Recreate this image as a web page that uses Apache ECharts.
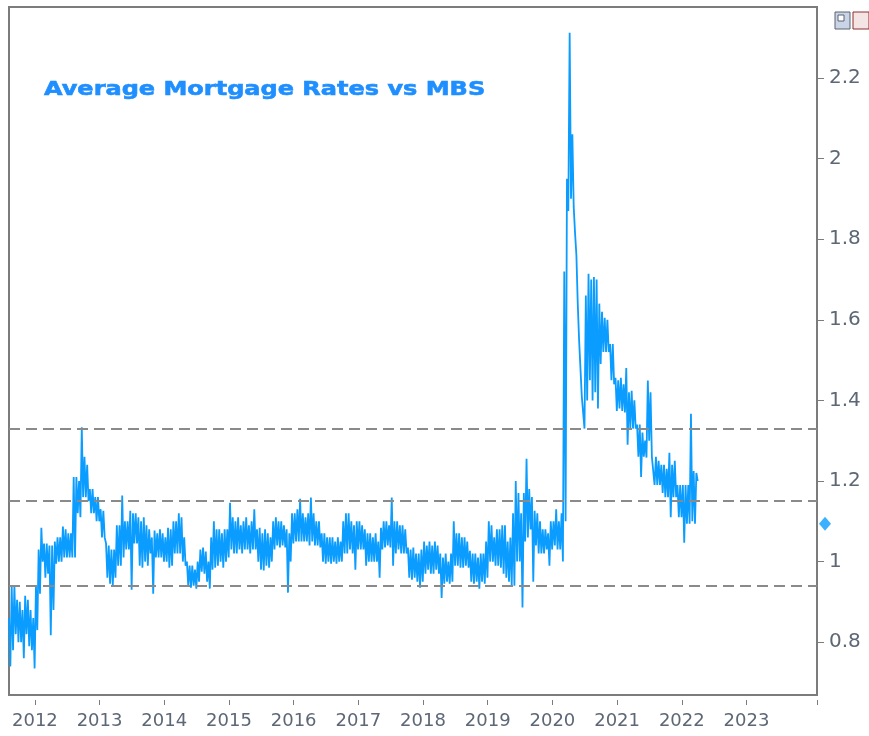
<!DOCTYPE html>
<html>
<head>
    <meta charset="utf-8">
    <title>Average Mortgage Rates vs MBS</title>
    <style>
        html, body { margin: 0; padding: 0; background: #fff; }
        #container { width: 869px; height: 736px; }
    </style>
</head>
<body>
<div id="container"></div>
<script type="text/javascript" src="https://cdn.jsdelivr.net/npm/echarts/dist/echarts.min.js"></script>
<script type="text/javascript">

    // spread, read in half-month columns from mid 2011: top and bottom of each column
    var startYear = 2011.6;
    var stepYears = 1 / 24;
    var spreadHigh = [
        0.86, 0.94, 0.94, 0.905, 0.90, 0.88, 0.915, 0.905, 0.88, 0.86, 0.94, 1.03,
        1.084, 1.045, 1.045, 1.04, 1.04, 1.05, 1.06, 1.06, 1.087, 1.08, 1.07, 1.07,
        1.21, 1.21, 1.20, 1.333, 1.26, 1.24, 1.18, 1.18, 1.16, 1.16, 1.13, 1.126,
        1.045, 1.04, 1.03, 1.03, 1.09, 1.09, 1.164, 1.10, 1.10, 1.126, 1.12, 1.12,
        1.11, 1.10, 1.11, 1.09, 1.08, 1.06, 1.077, 1.07, 1.08, 1.07, 1.06, 1.084,
        1.08, 1.10, 1.10, 1.12, 1.11, 1.06, 1.00, 0.99, 0.99, 0.98, 1.00, 1.03,
        1.035, 1.025, 1.00, 1.06, 1.10, 1.08, 1.08, 1.07, 1.08, 1.08, 1.146, 1.11,
        1.10, 1.11, 1.09, 1.10, 1.11, 1.09, 1.10, 1.13, 1.08, 1.084, 1.07, 1.08,
        1.07, 1.06, 1.10, 1.11, 1.10, 1.10, 1.09, 1.08, 1.07, 1.12, 1.12, 1.13,
        1.156, 1.12, 1.11, 1.12, 1.159, 1.12, 1.10, 1.10, 1.07, 1.07, 1.06, 1.06,
        1.06, 1.05, 1.06, 1.05, 1.10, 1.12, 1.12, 1.10, 1.09, 1.10, 1.10, 1.09,
        1.08, 1.07, 1.07, 1.06, 1.07, 1.05, 1.084, 1.10, 1.10, 1.09, 1.159, 1.10,
        1.10, 1.09, 1.09, 1.08, 1.035, 1.03, 1.035, 1.02, 1.02, 1.03, 1.05, 1.04,
        1.05, 1.04, 1.05, 1.04, 1.02, 1.01, 1.02, 1.00, 1.02, 1.10, 1.07, 1.07,
        1.06, 1.06, 1.05, 1.027, 1.02, 1.02, 1.01, 1.02, 1.02, 1.05, 1.10, 1.09,
        1.06, 1.08, 1.08, 1.09, 1.09, 1.05, 1.06, 1.12, 1.20, 1.17, 1.12, 1.17,
        1.255, 1.18, 1.16, 1.126, 1.12, 1.10, 1.08, 1.08, 1.07, 1.10, 1.10, 1.13,
        1.10, 1.12, 1.72, 1.95, 2.312, 2.06, 1.815, 1.64, 1.55, 1.41, 1.66, 1.714,
        1.70, 1.706, 1.70, 1.64, 1.62, 1.605, 1.60, 1.54, 1.54, 1.456, 1.45, 1.456,
        1.44, 1.48, 1.42, 1.424, 1.40, 1.34, 1.34, 1.32, 1.30, 1.449, 1.42, 1.26,
        1.26, 1.25, 1.24, 1.24, 1.23, 1.27, 1.24, 1.25, 1.19, 1.19, 1.19, 1.19,
        1.19, 1.367, 1.225, 1.22
    ];
    var spreadLow = [
        0.74, 0.78, 0.82, 0.80, 0.80, 0.76, 0.82, 0.79, 0.78, 0.735, 0.83, 0.92,
        1.00, 0.96, 0.97, 0.817, 0.88, 0.995, 1.00, 1.00, 1.01, 1.01, 1.01, 1.01,
        1.01, 1.12, 1.11, 1.16, 1.16, 1.15, 1.12, 1.12, 1.10, 1.10, 1.06, 1.06,
        0.96, 0.945, 0.94, 0.96, 0.99, 0.99, 1.01, 1.03, 1.03, 0.93, 1.045, 1.045,
        0.99, 0.985, 1.00, 0.99, 1.02, 0.92, 1.01, 1.01, 1.01, 1.00, 1.00, 0.985,
        0.99, 1.02, 1.02, 1.02, 1.00, 0.99, 0.94, 0.935, 0.94, 0.933, 0.95, 0.975,
        0.97, 0.95, 0.933, 0.98, 0.985, 0.99, 1.00, 0.985, 1.00, 1.01, 1.03, 1.02,
        1.02, 1.03, 1.02, 1.03, 1.03, 1.02, 1.03, 1.03, 1.00, 0.98, 0.978, 0.99,
        0.985, 1.00, 1.03, 1.04, 1.035, 1.04, 1.035, 0.923, 1.00, 1.045, 1.05, 1.05,
        1.05, 1.05, 1.05, 1.04, 1.05, 1.04, 1.04, 1.035, 1.00, 0.995, 1.00, 0.995,
        1.00, 0.995, 1.00, 1.00, 1.02, 1.02, 1.03, 1.02, 0.98, 1.03, 1.03, 1.03,
        0.99, 1.00, 1.00, 1.00, 1.00, 0.96, 1.03, 1.035, 1.04, 1.035, 0.99, 1.02,
        1.03, 1.02, 1.02, 1.02, 0.96, 0.955, 0.96, 0.95, 0.935, 0.95, 0.97, 0.98,
        0.97, 0.97, 0.98, 0.97, 0.91, 0.945, 0.95, 0.945, 0.95, 0.99, 0.99, 0.985,
        0.985, 0.99, 0.985, 0.95, 0.945, 0.95, 0.933, 0.95, 0.945, 0.96, 1.00, 1.00,
        0.99, 0.99, 0.985, 0.97, 0.96, 0.95, 0.94, 0.94, 1.00, 1.00, 0.886, 1.05,
        1.06, 1.08, 0.95, 1.04, 1.02, 1.02, 1.02, 1.03, 0.99, 1.03, 1.04, 1.03,
        1.03, 1.00, 1.10, 1.87, 1.90, 1.88, 1.76, 1.55, 1.41, 1.33, 1.40, 1.45,
        1.40, 1.42, 1.38, 1.49, 1.52, 1.52, 1.52, 1.45, 1.44, 1.374, 1.38, 1.374,
        1.37, 1.29, 1.33, 1.33, 1.33, 1.26, 1.21, 1.26, 1.258, 1.30, 1.26, 1.19,
        1.19, 1.19, 1.17, 1.16, 1.16, 1.11, 1.16, 1.16, 1.11, 1.11, 1.047, 1.094,
        1.094, 1.10, 1.094, 1.20
    ];
    var latestValue = 1.094;
    var refLevels = [1.335, 1.15, 0.94];
    var yearLabels = [2012, 2013, 2014, 2015, 2016, 2017, 2018, 2019, 2020, 2021, 2022, 2023];
    var valueLabels = [0.8, 1, 1.2, 1.4, 1.6, 1.8, 2, 2.2];

    var xMin = 2011.6, xMax = 2024.09;
    var yMin = 0.669, yMax = 2.376;
    var axisGrey = '#7c7c7c';
    var labelColor = '#5d6775';
    var lineBlue = '#0a9cff';

    // each column drawn as top then bottom, so the noise fills the band
    var lineData = [];
    for (var i = 0; i < spreadHigh.length; i++) {
        var t = startYear + i * stepYears;
        lineData.push([t, spreadHigh[i]]);
        lineData.push([t + stepYears / 2, spreadLow[i]]);
    }

    var dom = document.getElementById('container');
    var myChart = echarts.init(dom, null, {renderer: 'canvas'});

    var option = {
        animation: false,
        backgroundColor: '#fff',
        grid: {
            left: 9, right: 52, top: 7, bottom: 41,
            show: true, borderColor: axisGrey, borderWidth: 2
        },
        xAxis: [{
            type: 'value', min: xMin, max: xMax,
            axisLine: {show: true, lineStyle: {color: axisGrey, width: 2}},
            axisTick: {show: false},
            splitLine: {show: false},
            axisLabel: {
                customValues: yearLabels,
                margin: 17,
                color: labelColor,
                fontSize: 18,
                fontFamily: 'DejaVu Sans',
                formatter: function (v) { return String(v); }
            }
        }, {
            // detached tick marks under the frame
            type: 'value', min: xMin, max: xMax, position: 'bottom', offset: 5,
            axisLine: {show: false},
            axisTick: {show: true, length: 5, customValues: yearLabels.concat([xMax]),
                lineStyle: {color: axisGrey, width: 1}},
            axisLabel: {show: false},
            splitLine: {show: false}
        }],
        yAxis: {
            type: 'value', position: 'right', min: yMin, max: yMax,
            axisLine: {show: true, lineStyle: {color: axisGrey, width: 2}},
            axisTick: {show: true, length: 7, customValues: valueLabels,
                lineStyle: {color: axisGrey, width: 1}},
            splitLine: {show: false},
            axisLabel: {
                customValues: valueLabels,
                margin: 12,
                color: labelColor,
                fontSize: 20,
                fontFamily: 'DejaVu Sans',
                formatter: function (v) { return String(+v.toFixed(1)); }
            }
        },
        series: [{
            type: 'line',
            xAxisIndex: 0,
            data: lineData,
            showSymbol: false,
            lineStyle: {color: lineBlue, width: 1.8},
            markLine: {
                silent: true,
                symbol: ['none', 'none'],
                label: {show: false},
                lineStyle: {color: '#8a8a8a', width: 2, type: [11, 6]},
                data: refLevels.map(function (v) { return {yAxis: v}; })
            }
        }, {
            type: 'scatter',
            xAxisIndex: 0,
            clip: false,
            symbol: 'diamond',
            symbolSize: [12, 14],
            symbolOffset: [8, 0],
            itemStyle: {color: lineBlue},
            data: [[xMax, latestValue]]
        }],
        graphic: [{
            type: 'text',
            x: 44, y: 90,
            scaleX: 1.2,
            style: {
                text: 'Average Mortgage Rates vs MBS',
                fill: '#1f8fff',
                stroke: '#1f8fff',
                lineWidth: 0.6,
                font: 'bold 20px "DejaVu Sans"',
                verticalAlign: 'middle'
            }
        }, {
            type: 'group', x: 835, y: 12,
            children: [
                {type: 'rect', shape: {x: 0, y: 0, width: 15, height: 17},
                    style: {fill: '#c9d5e6', stroke: '#5a6270', lineWidth: 1}},
                {type: 'rect', shape: {x: 3, y: 3, width: 6, height: 6},
                    style: {fill: '#ffffff', stroke: '#5a6270', lineWidth: 1}},
                {type: 'rect', shape: {x: 18, y: 0, width: 16, height: 17},
                    style: {fill: '#f4e4e4', stroke: '#8b2f2f', lineWidth: 1}}
            ]
        }]
    };

    if (option && typeof option === "object") {
        myChart.setOption(option, true);
    }

</script>
</body>
</html>
